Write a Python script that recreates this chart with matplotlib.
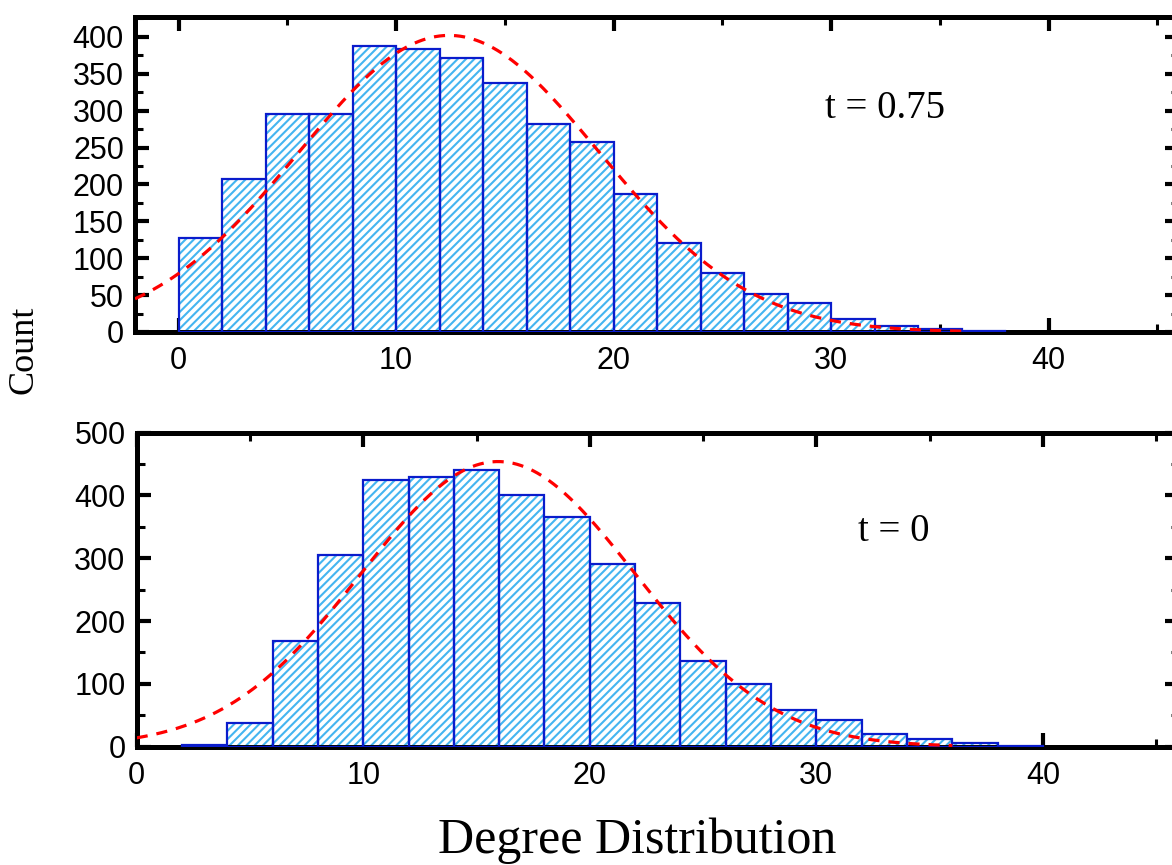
import numpy as np
import matplotlib
matplotlib.use("Agg")
import matplotlib.pyplot as plt
from matplotlib.ticker import MultipleLocator

# histogram data (bin width 2)
top_bins = [0, 2, 4, 6, 8, 10, 12, 14, 16, 18, 20, 22, 24, 26, 28, 30, 32, 34, 36]
top_counts = [128, 208, 296, 296, 387, 383, 371, 337, 282, 258, 187, 121, 80, 51, 39, 18, 8, 3.5, 1.8]
bot_bins = [2, 4, 6, 8, 10, 12, 14, 16, 18, 20, 22, 24, 26, 28, 30, 32, 34, 36, 38]
bot_counts = [3, 37, 169, 305, 424, 430, 440, 400, 365, 291, 228, 136, 100, 58, 43, 20, 12, 6, 1]
bin_width = 2

# gaussian fit parameters (amplitude, centre, sigma)
top_fit = (402, 12.44, 6.9)
bot_fit = (454, 15.95, 6.05)
fit_end = 36

labels = ["t = 0.75", "t = 0"]

hatch_col = "#45b5f0"
edge_col = "#0a1ccc"
plt.rcParams["hatch.linewidth"] = 1.5
plt.rcParams["font.family"] = "Liberation Sans"

fig = plt.figure(figsize=(11.72, 8.65), dpi=100)
ax1 = fig.add_axes([0.1152, 0.6162, 0.8908, 0.3642])
ax2 = fig.add_axes([0.1166, 0.1368, 0.8893, 0.3630])

def draw(ax, bins, counts, fit, xlim, ylim, ymaj, ymin, label, lab_xy):
    ax.bar(bins, counts, width=bin_width, align="edge", color="white",
           edgecolor=hatch_col, hatch="////", linewidth=0, zorder=2)
    ax.bar(bins, counts, width=bin_width, align="edge", fill=False,
           edgecolor=edge_col, linewidth=1.6, zorder=3)
    a, xc, w = fit
    xx = np.linspace(xlim[0], fit_end, 400)
    ax.plot(xx, a * np.exp(-(xx - xc) ** 2 / (2 * w ** 2)), color="red",
            ls=(0, (3.5, 2.8)), lw=2.3, zorder=4)
    ax.set_xlim(*xlim)
    ax.set_ylim(*ylim)
    ax.xaxis.set_major_locator(MultipleLocator(10))
    ax.xaxis.set_minor_locator(MultipleLocator(5))
    ax.yaxis.set_major_locator(MultipleLocator(ymaj))
    ax.yaxis.set_minor_locator(MultipleLocator(ymin))
    for s in ax.spines.values():
        s.set_linewidth(3.6)
    ax.tick_params(which="both", direction="in", top=True, right=True,
                   labelsize=22)
    ax.tick_params(axis="x", pad=10)
    ax.tick_params(axis="y", pad=8)
    ax.tick_params(which="major", length=10, width=3)
    ax.tick_params(which="minor", length=6, width=2.2)
    ax.text(lab_xy[0], lab_xy[1], label, fontsize=28, family="Liberation Serif",
            ha="center", va="center")

draw(ax1, top_bins, top_counts, top_fit, (-2, 46), (0, 427), 50, 25, labels[0], (32.5, 303))
draw(ax2, bot_bins, bot_counts, bot_fit, (0, 46), (0, 500), 100, 50, labels[1], (33.4, 342))

fig.text(24 / 1172, 1 - 350 / 865, "Count", rotation=90, fontsize=26,
         family="Liberation Serif", ha="center", va="center")
fig.text(637 / 1172, 1 - 853 / 865, "Degree Distribution", fontsize=36,
         family="Liberation Serif", ha="center", va="baseline")

fig.savefig("out.png", dpi=100)
